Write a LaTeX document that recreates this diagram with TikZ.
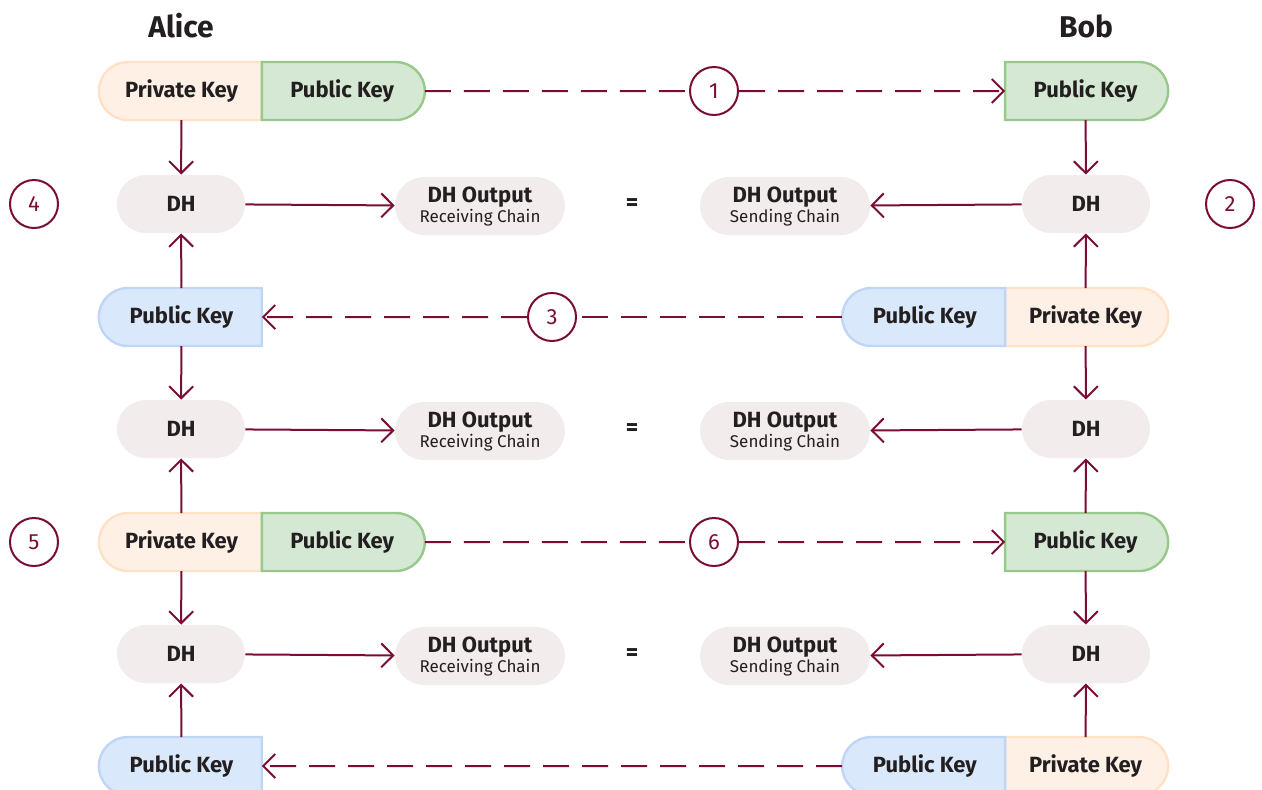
\documentclass[tikz,border=0pt]{standalone}
\usepackage{fontspec}
\setmainfont{Fira Sans}
\usetikzlibrary{positioning,shapes.misc,arrows.meta}
\definecolor{wine}{HTML}{7A0C36}
\definecolor{ink}{HTML}{231F20}
\definecolor{privfill}{HTML}{FFF0E6}
\definecolor{privline}{HTML}{FFE1C6}
\definecolor{greenfill}{HTML}{D5E8D4}
\definecolor{greenline}{HTML}{98C98B}
\definecolor{bluefill}{HTML}{DAE8FC}
\definecolor{blueline}{HTML}{C0D6F5}
\definecolor{dhfill}{HTML}{F3ECEC}
\tikzset{
  key/.style={rounded rectangle, minimum width=81.5pt, minimum height=29pt,
    inner sep=0pt, outer sep=0pt, line width=1.2pt, text=ink,
    font=\bfseries\fontsize{11}{13}\selectfont},
  keyl/.style={key, rounded rectangle right arc=none},
  keyr/.style={key, rounded rectangle left arc=none},
  priv/.style={fill=privfill, draw=privline},
  pubg/.style={fill=greenfill, draw=greenline},
  pubb/.style={fill=bluefill, draw=blueline},
  dh/.style={rounded rectangle, fill=dhfill, minimum width=64pt, minimum height=29pt,
    inner sep=0pt, text=ink, font=\bfseries\fontsize{11}{13}\selectfont},
  dhout/.style={dh, minimum width=85pt, align=center},
  eqsign/.style={text=ink, font=\bfseries\fontsize{12}{13}\selectfont},
  num/.style={circle, draw=wine, line width=1pt, minimum size=24pt, inner sep=0pt,
    text=wine, font=\fontsize{11}{13}\selectfont},
  who/.style={text=ink, font=\bfseries\fontsize{15}{17}\selectfont},
  flow/.style={draw=wine, line width=1pt, -{Straight Barb[length=6pt,width=12pt]}},
  msg/.style={flow, dash pattern=on 13pt off 6.5pt},
  msgline/.style={msg, -}
}
\newcommand{\recv}{DH Output\\[-3pt]{\mdseries\fontsize{8.5}{9}\selectfont Receiving Chain}}
\newcommand{\send}{DH Output\\[-3pt]{\mdseries\fontsize{8.5}{9}\selectfont Sending Chain}}
\begin{document}
\begin{tikzpicture}[x=0.5pt, y=-0.5pt]
  \useasboundingbox (0,0) rectangle (1262,789);
  \node[who] (alice) at (181,26) {Alice};
  \node[who] (bob) at (1086,26) {Bob};

  % row 1
  \node[keyl, priv] (apriv1) at (181.5,91) {Private Key};
  \node[keyr, pubg, right=0pt of apriv1] (apub1) {Public Key};
  \node[keyr, pubg] (bpub1) at (1085.5,91) {Public Key};
  \node[num] (n1) at (714,91) {1};

  % row 2
  \node[dh] (adh2) at (181,204) {DH};
  \node[dhout] (aout2) at (480,206) {\recv};
  \node[eqsign] (eq2) at (632,205) {=};
  \node[dhout] (bout2) at (785,206) {\send};
  \node[dh] (bdh2) at (1086,204) {DH};
  \node[num] (n4) at (34,204) {4};
  \node[num] (n2) at (1230,204) {2};

  % row 3
  \node[keyl, pubb] (apub3) at (181.5,317) {Public Key};
  \node[keyr, priv] (bpriv3) at (1085.5,317) {Private Key};
  \node[keyl, pubb, left=0pt of bpriv3] (bpub3) {Public Key};
  \node[num] (n3) at (552,317) {3};

  % row 4
  \node[dh] (adh4) at (181,429) {DH};
  \node[dhout] (aout4) at (480,431) {\recv};
  \node[eqsign] (eq4) at (632,430) {=};
  \node[dhout] (bout4) at (785,431) {\send};
  \node[dh] (bdh4) at (1086,429) {DH};

  % row 5
  \node[keyl, priv] (apriv5) at (181.5,542) {Private Key};
  \node[keyr, pubg, right=0pt of apriv5] (apub5) {Public Key};
  \node[keyr, pubg] (bpub5) at (1085.5,542) {Public Key};
  \node[num] (n6) at (714,542) {6};
  \node[num] (n5) at (34,542) {5};

  % row 6
  \node[dh] (adh6) at (181,654) {DH};
  \node[dhout] (aout6) at (480,656) {\recv};
  \node[eqsign] (eq6) at (632,655) {=};
  \node[dhout] (bout6) at (785,656) {\send};
  \node[dh] (bdh6) at (1086,654) {DH};

  % row 7
  \node[keyl, pubb] (apub7) at (181.5,766) {Public Key};
  \node[keyr, priv] (bpriv7) at (1085.5,766) {Private Key};
  \node[keyl, pubb, left=0pt of bpriv7] (bpub7) {Public Key};

  % sent keys
  \path[msgline] (apub1) edge (n1);
  \path[msg] (n1) edge (bpub1);
  \path[msgline] (bpub3) edge (n3);
  \path[msg] (n3) edge (apub3);
  \path[msgline] (apub5) edge (n6);
  \path[msg] (n6) edge (bpub5);
  \path[msg] (bpub7) edge (apub7);

  % alice
  \path[flow] (apriv1) edge (adh2)
              (apub3) edge (adh2)
              (apub3) edge (adh4)
              (apriv5) edge (adh4)
              (apriv5) edge (adh6)
              (apub7) edge (adh6)
              (adh2) edge (aout2)
              (adh4) edge (aout4)
              (adh6) edge (aout6);

  % bob
  \path[flow] (bpub1) edge (bdh2)
              (bpriv3) edge (bdh2)
              (bpriv3) edge (bdh4)
              (bpub5) edge (bdh4)
              (bpub5) edge (bdh6)
              (bpriv7) edge (bdh6)
              (bdh2) edge (bout2)
              (bdh4) edge (bout4)
              (bdh6) edge (bout6);
\end{tikzpicture}
\end{document}
